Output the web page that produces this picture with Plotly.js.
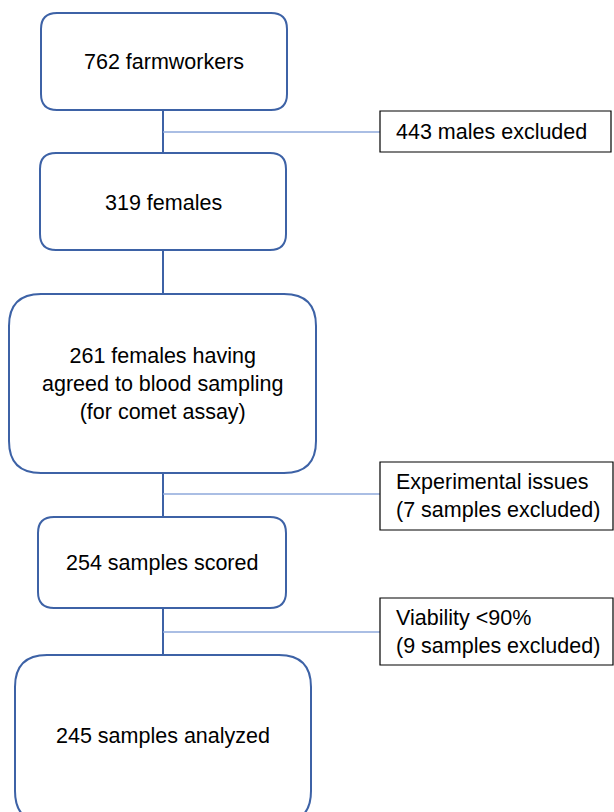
<!DOCTYPE html>
<html>
<head>
<meta charset="utf-8">
<script src="https://cdn.plot.ly/plotly-3.0.1.min.js"></script>
<style>html,body{margin:0;padding:0;background:#fff;overflow:hidden;}#chart{width:614px;height:812px;}</style>
</head>
<body>
<div id="chart"></div>
<script>
// ---- data ----
const stageCounts = [762, 319, 261, 254, 245];
const stageLabels = [
  "762 farmworkers",
  "319 females",
  "261 females having<br>agreed to blood sampling<br>(for comet assay)",
  "254 samples scored",
  "245 samples analyzed"
];
const excludedCounts = [443, 7, 9];
const excludedLabels = [
  "443 males excluded",
  "Experimental issues<br>(7 samples excluded)",
  "Viability <90%<br>(9 samples excluded)"
];

// ---- layout geometry (pixels) ----
const stageBoxes = [
  {x0: 41, x1: 287, y0: 13,  y1: 110, r: 16, ty: 62},
  {x0: 40, x1: 286, y0: 153, y1: 250, r: 16, ty: 203},
  {x0: 9,  x1: 316, y0: 294, y1: 473, r: 32, ty: 384},
  {x0: 38, x1: 286, y0: 517, y1: 608, r: 16, ty: 563},
  {x0: 15, x1: 311, y0: 655, y1: 823, r: 32, ty: 736}
];
const exclBoxes = [
  {x0: 380, x1: 611, y0: 111, y1: 152, ly: 132},
  {x0: 380, x1: 613, y0: 462, y1: 530, ly: 494},
  {x0: 380, x1: 613, y0: 598, y1: 665, ly: 632}
];
const spineX = 163;
const blue = "#3D62A6";
const lightBlue = "#8EA9DB";
const font = {family: "Liberation Sans, Arial, sans-serif", size: 21.5, color: "#000"};

function roundRect(b) {
  const r = b.r;
  return `M ${b.x0 + r} ${b.y0} L ${b.x1 - r} ${b.y0} Q ${b.x1} ${b.y0} ${b.x1} ${b.y0 + r} ` +
         `L ${b.x1} ${b.y1 - r} Q ${b.x1} ${b.y1} ${b.x1 - r} ${b.y1} ` +
         `L ${b.x0 + r} ${b.y1} Q ${b.x0} ${b.y1} ${b.x0} ${b.y1 - r} ` +
         `L ${b.x0} ${b.y0 + r} Q ${b.x0} ${b.y0} ${b.x0 + r} ${b.y0} Z`;
}

const shapes = [];
const annotations = [];

// connectors between stages
for (let i = 0; i < stageBoxes.length - 1; i++) {
  shapes.push({type: "line", xref: "x", yref: "y", x0: spineX, x1: spineX,
    y0: stageBoxes[i].y1, y1: stageBoxes[i + 1].y0, line: {color: blue, width: 2}});
}
// exclusion branches
exclBoxes.forEach((b, i) => {
  shapes.push({type: "line", xref: "x", yref: "y", x0: spineX, x1: b.x0, y0: b.ly, y1: b.ly,
    line: {color: lightBlue, width: 1.3}});
  shapes.push({type: "rect", xref: "x", yref: "y", x0: b.x0, x1: b.x1, y0: b.y0, y1: b.y1,
    line: {color: "#000", width: 1.2}, fillcolor: "#fff"});
  annotations.push({x: b.x0 + 14, y: (b.y0 + b.y1) / 2, xref: "x", yref: "y",
    text: excludedLabels[i], showarrow: false, xanchor: "left", yanchor: "middle",
    align: "left", font: font});
});
// stage boxes
stageBoxes.forEach((b, i) => {
  shapes.push({type: "path", xref: "x", yref: "y", path: roundRect(b),
    line: {color: blue, width: 2}, fillcolor: "#fff"});
  annotations.push({x: (b.x0 + b.x1) / 2, y: b.ty, xref: "x", yref: "y",
    text: stageLabels[i], showarrow: false, xanchor: "center", yanchor: "middle",
    align: "center", font: font});
});

const axisOff = {showgrid: false, zeroline: false, showticklabels: false, ticks: "", showline: false, fixedrange: true};
const layout = {
  width: 614, height: 812,
  margin: {l: 0, r: 0, t: 0, b: 0},
  paper_bgcolor: "#fff", plot_bgcolor: "#fff",
  xaxis: Object.assign({range: [0, 614]}, axisOff),
  yaxis: Object.assign({range: [812, 0]}, axisOff),
  shapes: shapes,
  annotations: annotations,
  showlegend: false
};
Plotly.newPlot("chart", [{x: [], y: [], type: "scatter", mode: "markers", hoverinfo: "skip"}], layout,
  {staticPlot: true, displayModeBar: false});
</script>
</body>
</html>
